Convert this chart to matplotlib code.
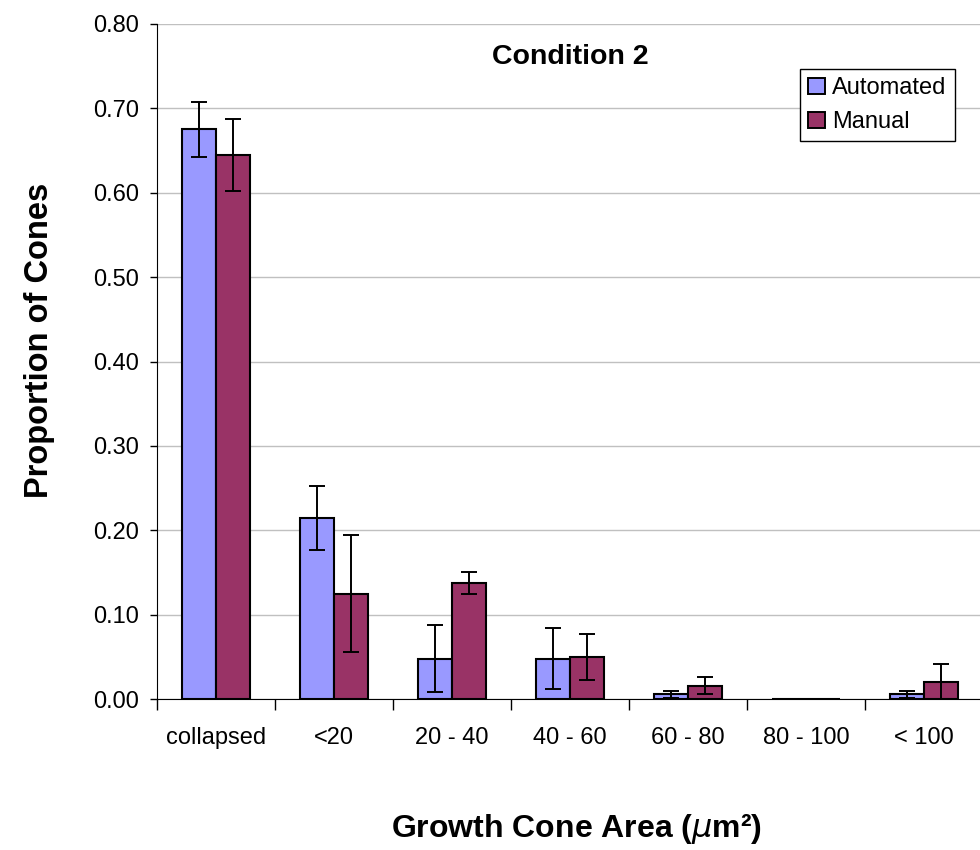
import numpy as np
import matplotlib
matplotlib.use("Agg")
import matplotlib.pyplot as plt
from matplotlib.patches import Patch

plt.rcParams['font.family'] = ['Liberation Sans', 'DejaVu Sans']

# Data
categories = ['collapsed', '<20', '20 - 40', '40 - 60', '60 - 80', '80 - 100', '< 100']
automated = [0.675, 0.215, 0.048, 0.048, 0.0055, 0.0, 0.0055]
automated_err = [0.033, 0.038, 0.040, 0.036, 0.0045, 0.0, 0.0045]
manual = [0.645, 0.125, 0.138, 0.050, 0.016, 0.0, 0.0205]
manual_err = [0.043, 0.069, 0.013, 0.027, 0.0095, 0.0, 0.021]
yticks = [0.0, 0.1, 0.2, 0.3, 0.4, 0.5, 0.6, 0.7, 0.8]

auto_color = '#9999FF'
manual_color = '#993366'

fig = plt.figure(figsize=(9.8, 8.5), dpi=100)
ax = fig.add_axes([157 / 980, 151 / 850, 826 / 980, 675 / 850])

x = np.arange(len(categories))
w = 1 / 3.5

ax.bar(x - w / 2, automated, w, color=auto_color, edgecolor='black', linewidth=1.5, zorder=3)
ax.bar(x + w / 2, manual, w, color=manual_color, edgecolor='black', linewidth=1.5, zorder=3)
ax.errorbar(x - w / 2, automated, yerr=automated_err, fmt='none', ecolor='black',
            elinewidth=1.4, capsize=5.5, capthick=1.4, zorder=4)
ax.errorbar(x + w / 2, manual, yerr=manual_err, fmt='none', ecolor='black',
            elinewidth=1.4, capsize=5.5, capthick=1.4, zorder=4)

ax.set_xlim(-0.5, len(categories) - 0.5)
ax.set_ylim(0, 0.8)
ax.set_yticks(yticks)
ax.set_yticklabels([f'{v:.2f}' for v in yticks], fontsize=17)
ax.yaxis.grid(True, color='#c0c0c0', linewidth=1.0, zorder=0)
ax.set_axisbelow(True)

ax.set_xticks(x)
ax.set_xticklabels(categories, fontsize=17)
ax.tick_params(axis='x', which='major', length=0, pad=20)
ax.set_xticks(np.arange(len(categories) + 1) - 0.5, minor=True)
ax.tick_params(axis='x', which='minor', length=8, width=1, direction='out')
ax.tick_params(axis='y', length=5, width=1, direction='out', pad=8)

for side in ['top', 'right']:
    ax.spines[side].set_visible(False)
ax.spines['left'].set_color('black')
ax.spines['bottom'].set_color('black')

ax.text(0.5, 0.951, 'Condition 2', transform=ax.transAxes, ha='center', va='center',
        fontsize=20.5, fontweight='bold')

fig.text(40 / 980, 1 - 340 / 850, 'Proportion of Cones', rotation=90, ha='center',
         va='center', fontsize=23.5, fontweight='bold')
fig.text(577 / 980, 1 - 829 / 850, r'Growth Cone Area ($\mathit{\mu}$m²)', ha='center',
         va='center', fontsize=23, fontweight='bold')

handles = [Patch(facecolor=auto_color, edgecolor='black', linewidth=1.4),
           Patch(facecolor=manual_color, edgecolor='black', linewidth=1.4)]
leg = ax.legend(handles, ['Automated', 'Manual'], loc='upper left',
                bbox_to_anchor=(800 / 980, 1 - 69 / 850), bbox_transform=fig.transFigure,
                fontsize=17, frameon=True, fancybox=False, framealpha=1,
                handlelength=0.7, handleheight=0.7, handletextpad=0.3,
                borderpad=0.35, labelspacing=0.5, borderaxespad=0)
leg.get_frame().set_edgecolor('black')
leg.get_frame().set_linewidth(1.0)

fig.savefig('out.png', dpi=100)
